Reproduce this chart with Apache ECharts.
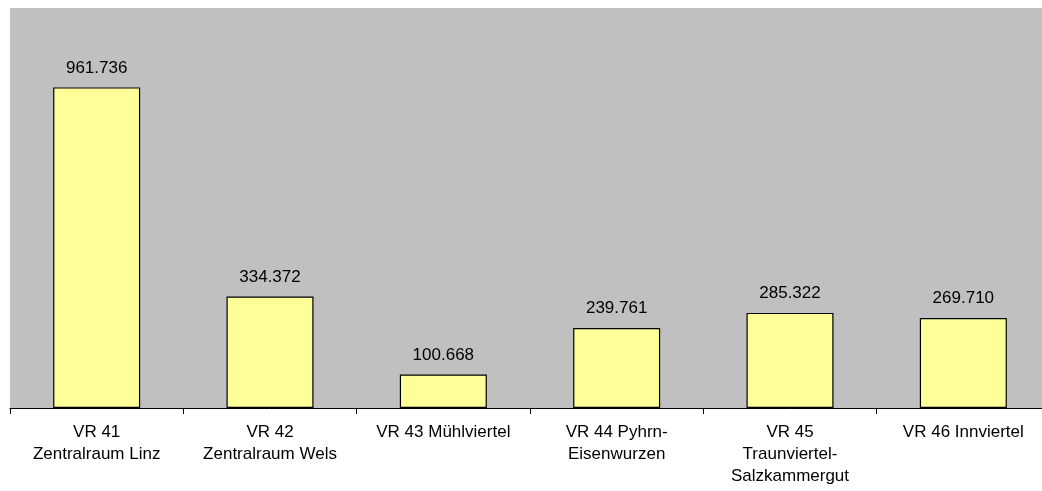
<!DOCTYPE html>
<html>
<head>
<meta charset="UTF-8">
<script src="https://cdn.jsdelivr.net/npm/echarts@6/dist/echarts.min.js"></script>
<style>
  html, body { margin: 0; padding: 0; width: 100%; height: 100%; background: #fff; overflow: hidden; }
  /* plot area runs a bit past the right edge of the window, as in the source */
  #main { width: 1050px; height: 491px; }
</style>
</head>
<body>
<div id="main"></div>
<script>
  // Versorgungsregionen and their values
  const regions = [
    'VR 41\nZentralraum Linz',
    'VR 42\nZentralraum Wels',
    'VR 43 Mühlviertel',
    'VR 44 Pyhrn-\nEisenwurzen',
    'VR 45\nTraunviertel-\nSalzkammergut',
    'VR 46 Innviertel'
  ];
  const values = [961736, 334372, 100668, 239761, 285322, 269710];

  // 961736 -> "961.736"
  const fmt = v => String(v).replace(/\B(?=(\d{3})+(?!\d))/g, '.');

  const chart = echarts.init(document.getElementById('main'));
  chart.setOption({
    animation: false,
    grid: {
      left: 10, right: 0, top: 8, bottom: 83,
      show: true, backgroundColor: '#c0c0c0', borderWidth: 0
    },
    xAxis: {
      type: 'category',
      data: regions,
      axisLine: { lineStyle: { color: '#000', width: 1 } },
      axisTick: { show: true, length: 6, lineStyle: { color: '#000', width: 1 } },
      axisLabel: {
        interval: 0, margin: 13, color: '#000',
        fontFamily: 'Liberation Sans, Arial, sans-serif', fontSize: 17, lineHeight: 22
      }
    },
    yAxis: { type: 'value', min: 0, max: 1200000, show: false, splitLine: { show: false } },
    series: [{
      type: 'bar',
      data: values,
      barWidth: 87,
      itemStyle: { color: '#ffff99', borderColor: '#000', borderWidth: 1.2 },
      label: {
        show: true, position: 'top', distance: 11, color: '#000',
        fontFamily: 'Liberation Sans, Arial, sans-serif', fontSize: 17,
        formatter: p => fmt(p.value)
      }
    }]
  });
</script>
</body>
</html>
